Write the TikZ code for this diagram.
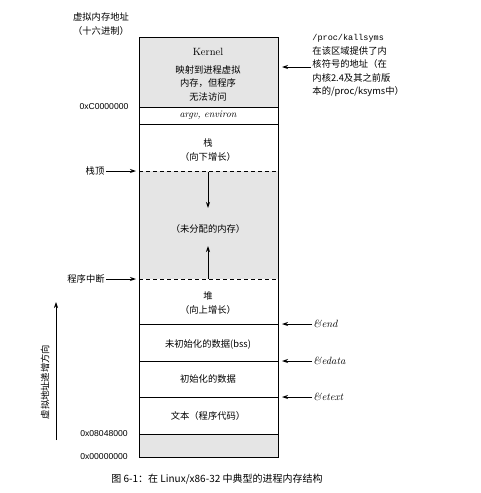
\documentclass[tikz,border=0pt]{standalone}
\usepackage{fontspec}
\newfontfamily\cjk{Noto Sans CJK SC}
\newfontfamily\hexfont{Liberation Sans}
\newfontfamily\monofont{Liberation Mono}
\usetikzlibrary{positioning,arrows.meta}

\begin{document}
\begin{tikzpicture}[x=1pt, y=-1pt, >={Stealth[length=6pt,width=4pt]}, line width=0.9pt,
    zh/.style={font=\cjk\fontsize{9.3}{13.5}\selectfont, inner sep=1pt},
    hex/.style={font=\hexfont\fontsize{8.6}{10}\selectfont},
    amp/.style={font=\itshape\fontsize{10.5}{12}\selectfont, anchor=west, inner sep=1pt},
    seg/.style={line width=1pt},
    gap/.style={line width=1pt, dash pattern=on 4pt off 3pt}]
    \useasboundingbox (0,0) rectangle (480,493);

    % shaded regions and the outer box
    \fill[gray!20] (139,37) rectangle (278,107);
    \fill[gray!20] (139,171) rectangle (278,279);
    \fill[gray!20] (139,434) rectangle (278,457);
    \draw[seg] (139,37) rectangle (278,457);
    \draw[seg] (139,107) -- (278,107);
    \draw[seg] (139,124) -- (278,124);
    \draw[gap] (139,171) -- (278,171);
    \draw[gap] (139,279) -- (278,279);
    \draw[seg] (139,324) -- (278,324);
    \draw[seg] (139,361) -- (278,361);
    \draw[seg] (139,397) -- (278,397);
    \draw[seg] (139,434) -- (278,434);

    % addresses on the left
    \node[zh, align=center] (head) at (101,24) {虚拟内存地址\\（十六进制）};
    \node[hex] (hexkern) at (104,107) {0xC0000000};
    \node[hex] (hextext) at (104,434) {0x08048000};
    \node[hex] (hexzero) at (104,457) {0x00000000};

    % contents of the box
    \node[font=\fontsize{10.5}{12}\selectfont] (kernel) at (208,52) {Kernel};
    \node[zh, align=center] (kdesc) at (208,83) {映射到进程虚拟\\内存，但程序\\无法访问};
    \node[font=\itshape\fontsize{10}{11}\selectfont] (argv) at (208,115) {argv, environ};
    \node[zh, align=center] (stack) at (208,150) {栈\\（向下增长）};
    \node[zh] (free) at (208,229) {（未分配的内存）};
    \node[zh, align=center] (heap) at (208,303) {堆\\（向上增长）};
    \node[zh] (bss) at (208,344) {未初始化的数据(bss)};
    \node[zh] (data) at (208,379) {初始化的数据};
    \node[zh] (text) at (208,416) {文本（程序代码）};

    \coordinate (stktail) at (208,172);
    \coordinate (stktip) at (208,208);
    \coordinate (heaptail) at (208,279);
    \coordinate (heaptip) at (208,246);
    \draw[->] (stktail) -- (stktip);
    \draw[->] (heaptail) -- (heaptip);

    % pointers on the left
    \node[zh] (sptop) at (95,171) {栈顶};
    \node[zh] (brk) at (86,279) {程序中断};
    \coordinate (sptip) at (136,171);
    \coordinate (brktip) at (136,279);
    \draw[->] (sptop) -- (sptip);
    \draw[->] (brk) -- (brktip);

    % pointers on the right
    \node[zh, anchor=north west, align=left] (ksyms) at (311,33)
        {{\monofont\fontsize{8.5}{10}\selectfont /proc/kallsyms}\\在该区域提供了内\\核符号的地址（在\\内核2.4及其之前版\\本的/proc/ksyms中）};
    \coordinate (kstip) at (282,67);
    \draw[->] (ksyms.west |- kstip) -- (kstip);

    \node[amp] (end) at (312,324) {\&end};
    \node[amp] (edata) at (312,361) {\&edata};
    \node[amp] (etext) at (312,397) {\&etext};
    \coordinate (endtip) at (282,324);
    \coordinate (edatatip) at (282,361);
    \coordinate (etexttip) at (282,397);
    \draw[->] (end) -- (endtip);
    \draw[->] (edata) -- (edatatip);
    \draw[->] (etext) -- (etexttip);

    % growth direction
    \coordinate (axbot) at (56,440);
    \coordinate (axtop) at (56,302);
    \draw[->, line width=0.6pt] (axbot) -- (axtop);
    \node[zh, rotate=90] (axis) at (45,382) {虚拟地址递增方向};

    \node[font=\cjk\fontsize{10}{12}\selectfont] (caption) at (217,479)
        {图 6-1：在 Linux/x86-32 中典型的进程内存结构};
\end{tikzpicture}
\end{document}
